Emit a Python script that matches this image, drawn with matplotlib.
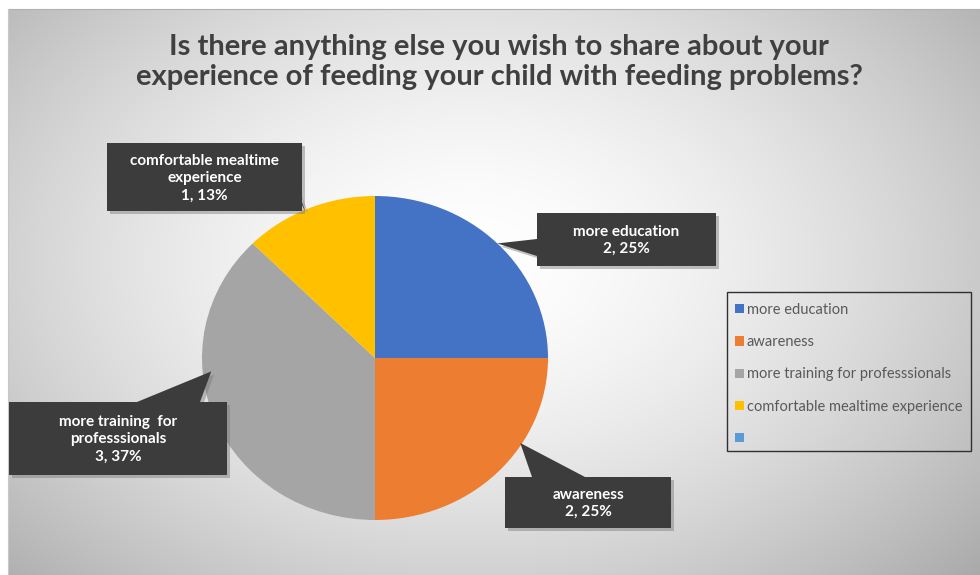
import numpy as np
import matplotlib
matplotlib.use("Agg")
import matplotlib.pyplot as plt
from matplotlib.patches import Rectangle, Polygon, Patch

plt.rcParams['font.family'] = ['Lato', 'DejaVu Sans']

title = "Is there anything else you wish to share about your\nexperience of feeding your child with feeding problems?"
categories = ["more education", "awareness", "more training for professsionals",
              "comfortable mealtime experience", ""]
counts = [2, 2, 3, 1, 0]
pct_labels = ["25%", "25%", "37%", "13%", ""]
callout_text = ["more education", "awareness", "more training  for\nprofesssionals",
                "comfortable mealtime\nexperience"]
colors = ["#4472C4", "#ED7D31", "#A5A5A5", "#FFC000", "#5B9BD5"]

W, H = 980, 575
fig = plt.figure(figsize=(W / 100, H / 100), dpi=100)

# full-figure overlay in pixel units (y down)
bg = fig.add_axes([0, 0, 1, 1], zorder=0)
bg.set_xlim(0, W)
bg.set_ylim(H, 0)
bg.axis('off')

# radial grey gradient behind the chart
x0, y0 = 8, 9
gx, gy = np.meshgrid(np.linspace(x0, W, 400), np.linspace(y0, H, 240))
d = np.sqrt(((gx - 470) / 560) ** 2 + ((gy - 260) / 380) ** 2)
shade = 1 - 0.24 * np.clip(d, 0, 1.6) ** 1.6
img = np.dstack([shade, shade, shade])
bg.imshow(img, extent=(x0, W, H, y0), aspect='auto', interpolation='bilinear')
bg.plot([x0, W], [y0, y0], color='#b0b0b0', lw=0.8)
bg.plot([x0, x0], [y0, H], color='#c8c8c8', lw=0.8)

bg.text(499, 62, title, ha='center', va='center', fontsize=21,
        fontweight='bold', color='#404040', linespacing=1.22)

# pie
cx, cy, rx, ry = 375, 358, 173, 162
pax = fig.add_axes([(cx - rx) / W, (H - cy - ry) / H, 2 * rx / W, 2 * ry / H], zorder=1)
wedges, _ = pax.pie(counts, colors=colors, startangle=90, counterclock=False,
                    wedgeprops=dict(linewidth=0))
pax.set_aspect('auto')
pax.set_xlim(-1, 1)
pax.set_ylim(-1, 1)
pax.axis('off')

fg = fig.add_axes([0, 0, 1, 1], zorder=2)
fg.set_xlim(0, W)
fg.set_ylim(H, 0)
fg.axis('off')
fg.patch.set_alpha(0)


def pie_point(deg, r):
    a = np.deg2rad(deg)
    disp = pax.transData.transform((r * np.cos(a), r * np.sin(a)))
    return fg.transData.inverted().transform(disp)


# callout boxes: box corners, pointer base, where the tip lands on the slice
boxes = [(537, 213, 716, 266), (505, 477, 671, 528), (9, 402, 227, 475), (107, 143, 302, 211)]
bases = [[(537, 239), (537, 256)], [(532, 477), (585, 477)],
         [(137, 402), (200, 402)], [(296, 185), (302, 205)]]
tips = [(45, 1.0), (-32, 0.99), (185, 0.95), (114, 0.985)]

for i in range(4):
    bx0, by0, bx1, by1 = boxes[i]
    tip = pie_point(*tips[i])
    tri = [bases[i][0], bases[i][1], tuple(tip)]
    for off, col, al in [(3, '#7a7a7a', 0.45), (0, '#3c3c3c', 1)]:
        fg.add_patch(Rectangle((bx0 + off, by0 + off), bx1 - bx0, by1 - by0,
                               facecolor=col, alpha=al, lw=0))
        fg.add_patch(Polygon([(p[0] + off, p[1] + off) for p in tri],
                             facecolor=col, alpha=al, lw=0))
    txt = "%s\n%d, %s" % (callout_text[i], counts[i], pct_labels[i])
    fg.text((bx0 + bx1) / 2, (by0 + by1) / 2 + 1, txt, ha='center', va='center',
            color='white', fontsize=11, fontweight='bold', linespacing=1.3)

# legend
fg.add_patch(Rectangle((727, 292), 244, 159, facecolor='none', edgecolor='#303030', lw=1))
handles = [Patch(facecolor=c, edgecolor='none') for c in colors]
leg = fig.legend(handles, categories, loc='upper left',
                 bbox_to_anchor=(729 / W, 1 - 297 / H), frameon=False,
                 fontsize=10.5, labelcolor='#595959', handlelength=0.6,
                 handleheight=0.6, handletextpad=0.2, labelspacing=1.25,
                 borderaxespad=0)

fig.savefig("out.png", dpi=100)
